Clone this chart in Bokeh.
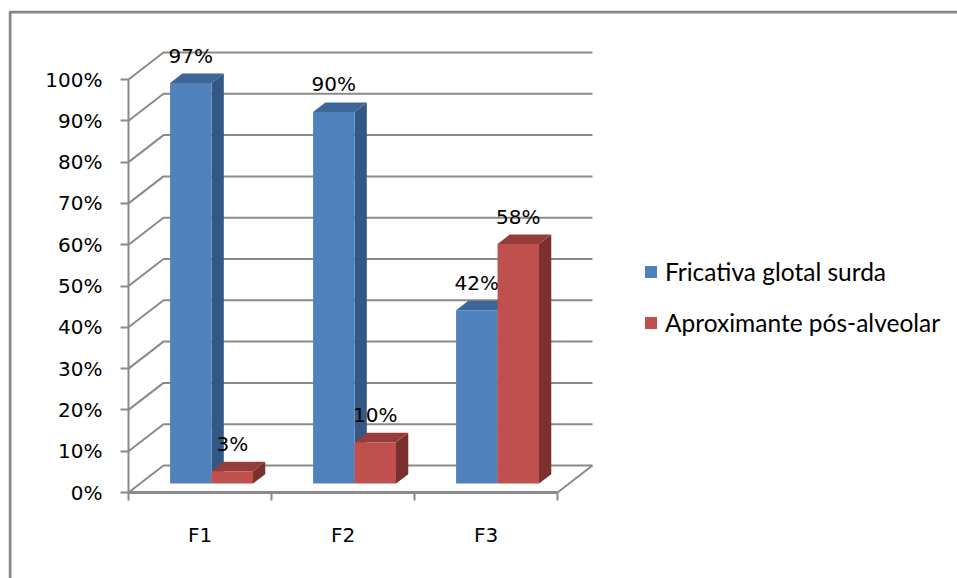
from bokeh.plotting import figure
from bokeh.models import (Range1d, FixedTicker, NumeralTickFormatter, LinearAxis,
                          Legend, LegendItem)
from bokeh.embed import file_html
from bokeh.resources import INLINE
from bokeh.core.properties import value

# ---------------- data ----------------
categories = ["F1", "F2", "F3"]
fricativa = [0.97, 0.90, 0.42]
aproximante = [0.03, 0.10, 0.58]
series_names = ["Fricativa glotal surda", "Aproximante pós-alveolar"]
y_ticks = [0.0, 0.1, 0.2, 0.3, 0.4, 0.5, 0.6, 0.7, 0.8, 0.9, 1.0]

# ---------------- geometry / style ----------------
W, H = 957, 578
FR_L, FR_T = 8, 10        # frame (outer chart box) top-left in px
AX_X, AX_Y = 128, 492     # pixel position of the front axes origin
PX_CAT = 143.0            # px per category
PX_UNIT = 413.0           # px per 100%
DX = 35.0 / PX_CAT        # depth offset (x) in category units
DY = 27.0 / PX_UNIT       # depth offset (y) in value units
F0, F1 = 0.33, 0.68       # bar depth start / end
BAR_W = 0.29
GAP = (1 - 2 * BAR_W) / 2
GRID = "#8a8a8a"
BORDER = "#878787"
FONT = "DejaVu Sans"
colors = [
    {"front": "#4f81bd", "top": "#3e6699", "side": "#345884"},
    {"front": "#c0504d", "top": "#963d3b", "side": "#7b302e"},
]


def px_to_x(px):
    return (px - AX_X) / PX_CAT


def px_to_y(py):
    return (AX_Y - py) / PX_UNIT


p = figure(width=W, height=H, output_backend="svg", toolbar_location=None,
           x_range=Range1d(px_to_x(FR_L), px_to_x(W)),
           y_range=Range1d(px_to_y(H), px_to_y(FR_T)),
           min_border_left=FR_L, min_border_bottom=0, min_border_top=FR_T,
           min_border_right=0, x_axis_type=None, y_axis_type=None)
p.outline_line_color = None
p.grid.visible = False
p.background_fill_color = "white"
p.border_fill_color = "white"

n = len(categories)

# ---------------- outer chart border (left + top edges visible) ----------------
bx, by = px_to_x(FR_L + 1.5), px_to_y(FR_T + 1.5)
p.multi_line(xs=[[bx, bx, px_to_x(W + 20)]], ys=[[px_to_y(H + 20), by, by]],
             line_color=BORDER, line_width=3)

# ---------------- 3D gridlines (left wall + back wall) ----------------
g_xs, g_ys = [], []
for t in y_ticks:
    g_xs.append([0, DX, n + DX])
    g_ys.append([t, t + DY, t + DY])
g_xs.append([n + DX, n])
g_ys.append([DY, 0])
p.multi_line(xs=g_xs, ys=g_ys, line_color=GRID, line_width=2)

# ---------------- bars ----------------
legend_items = []
series = [fricativa, aproximante]
for s, vals in enumerate(series):
    side_xs, side_ys, top_xs, top_ys, fr_xs, fr_ys = [], [], [], [], [], []
    a, b, c, d = F0 * DX, F1 * DX, F0 * DY, F1 * DY
    for i, v in enumerate(vals):
        x0 = i + GAP + s * BAR_W
        x1 = x0 + BAR_W
        side_xs.append([x1 + a, x1 + b, x1 + b, x1 + a])
        side_ys.append([c, d, v + d, v + c])
        top_xs.append([x0 + a, x1 + a, x1 + b, x0 + b])
        top_ys.append([v + c, v + c, v + d, v + d])
        fr_xs.append([x0 + a, x1 + a, x1 + a, x0 + a])
        fr_ys.append([c, c, v + c, v + c])
    col = colors[s]
    p.patches(xs=side_xs, ys=side_ys, fill_color=col["side"], line_color=None)
    p.patches(xs=top_xs, ys=top_ys, fill_color=col["top"], line_color=None)
    r = p.patches(xs=fr_xs, ys=fr_ys, fill_color=col["front"], line_color=None)
    legend_items.append(LegendItem(label=series_names[s], renderers=[r]))

    # data labels
    lx = [i + GAP + s * BAR_W + BAR_W / 2 + a for i in range(n)]
    ly = [v + d for v in vals]
    txt = ["%d%%" % round(v * 100) for v in vals]
    p.text(x=lx, y=ly, text=txt, text_align="center", text_baseline="alphabetic",
           y_offset=-18, text_font=value(FONT), text_font_size="20px", text_color="black")

# ---------------- axes ----------------
yaxis = LinearAxis(ticker=FixedTicker(ticks=y_ticks, minor_ticks=[]),
                   formatter=NumeralTickFormatter(format="0%"), bounds=(0, 1))
yaxis.fixed_location = 0
yaxis.major_tick_out = 8
yaxis.major_tick_in = 0
yaxis.minor_tick_out = 0
yaxis.axis_line_color = GRID
yaxis.axis_line_width = 2
yaxis.major_tick_line_color = GRID
yaxis.major_tick_line_width = 2
yaxis.major_label_standoff = 18
yaxis.major_label_text_font = FONT
yaxis.major_label_text_font_size = "20px"
yaxis.major_label_text_color = "black"
p.add_layout(yaxis, "left")

xaxis = LinearAxis(ticker=FixedTicker(ticks=[i + 0.5 for i in range(n)],
                                      minor_ticks=list(range(n + 1))),
                   major_label_overrides={i + 0.5: c for i, c in enumerate(categories)},
                   bounds=(0, n))
xaxis.fixed_location = 0
xaxis.major_tick_out = 0
xaxis.major_tick_in = 0
xaxis.minor_tick_out = 8
xaxis.minor_tick_in = 0
xaxis.minor_tick_line_color = GRID
xaxis.minor_tick_line_width = 2
xaxis.axis_line_color = GRID
xaxis.axis_line_width = 3
xaxis.major_label_standoff = 22
xaxis.major_label_text_font = FONT
xaxis.major_label_text_font_size = "20px"
xaxis.major_label_text_color = "black"
p.add_layout(xaxis, "below")

# ---------------- legend ----------------
legend = Legend(items=legend_items, location=(643 - FR_L, H - 337),
                orientation="vertical")
legend.glyph_width = 15
legend.glyph_height = 15
legend.label_standoff = 7
legend.padding = 0
legend.margin = 0
legend.spacing = 22
legend.border_line_color = None
legend.background_fill_alpha = 0
legend.label_text_font = "Lato"
legend.label_text_font_size = "24.5px"
legend.label_text_color = "black"
p.add_layout(legend, "center")

open("out.html", "w").write(file_html(p, INLINE))
